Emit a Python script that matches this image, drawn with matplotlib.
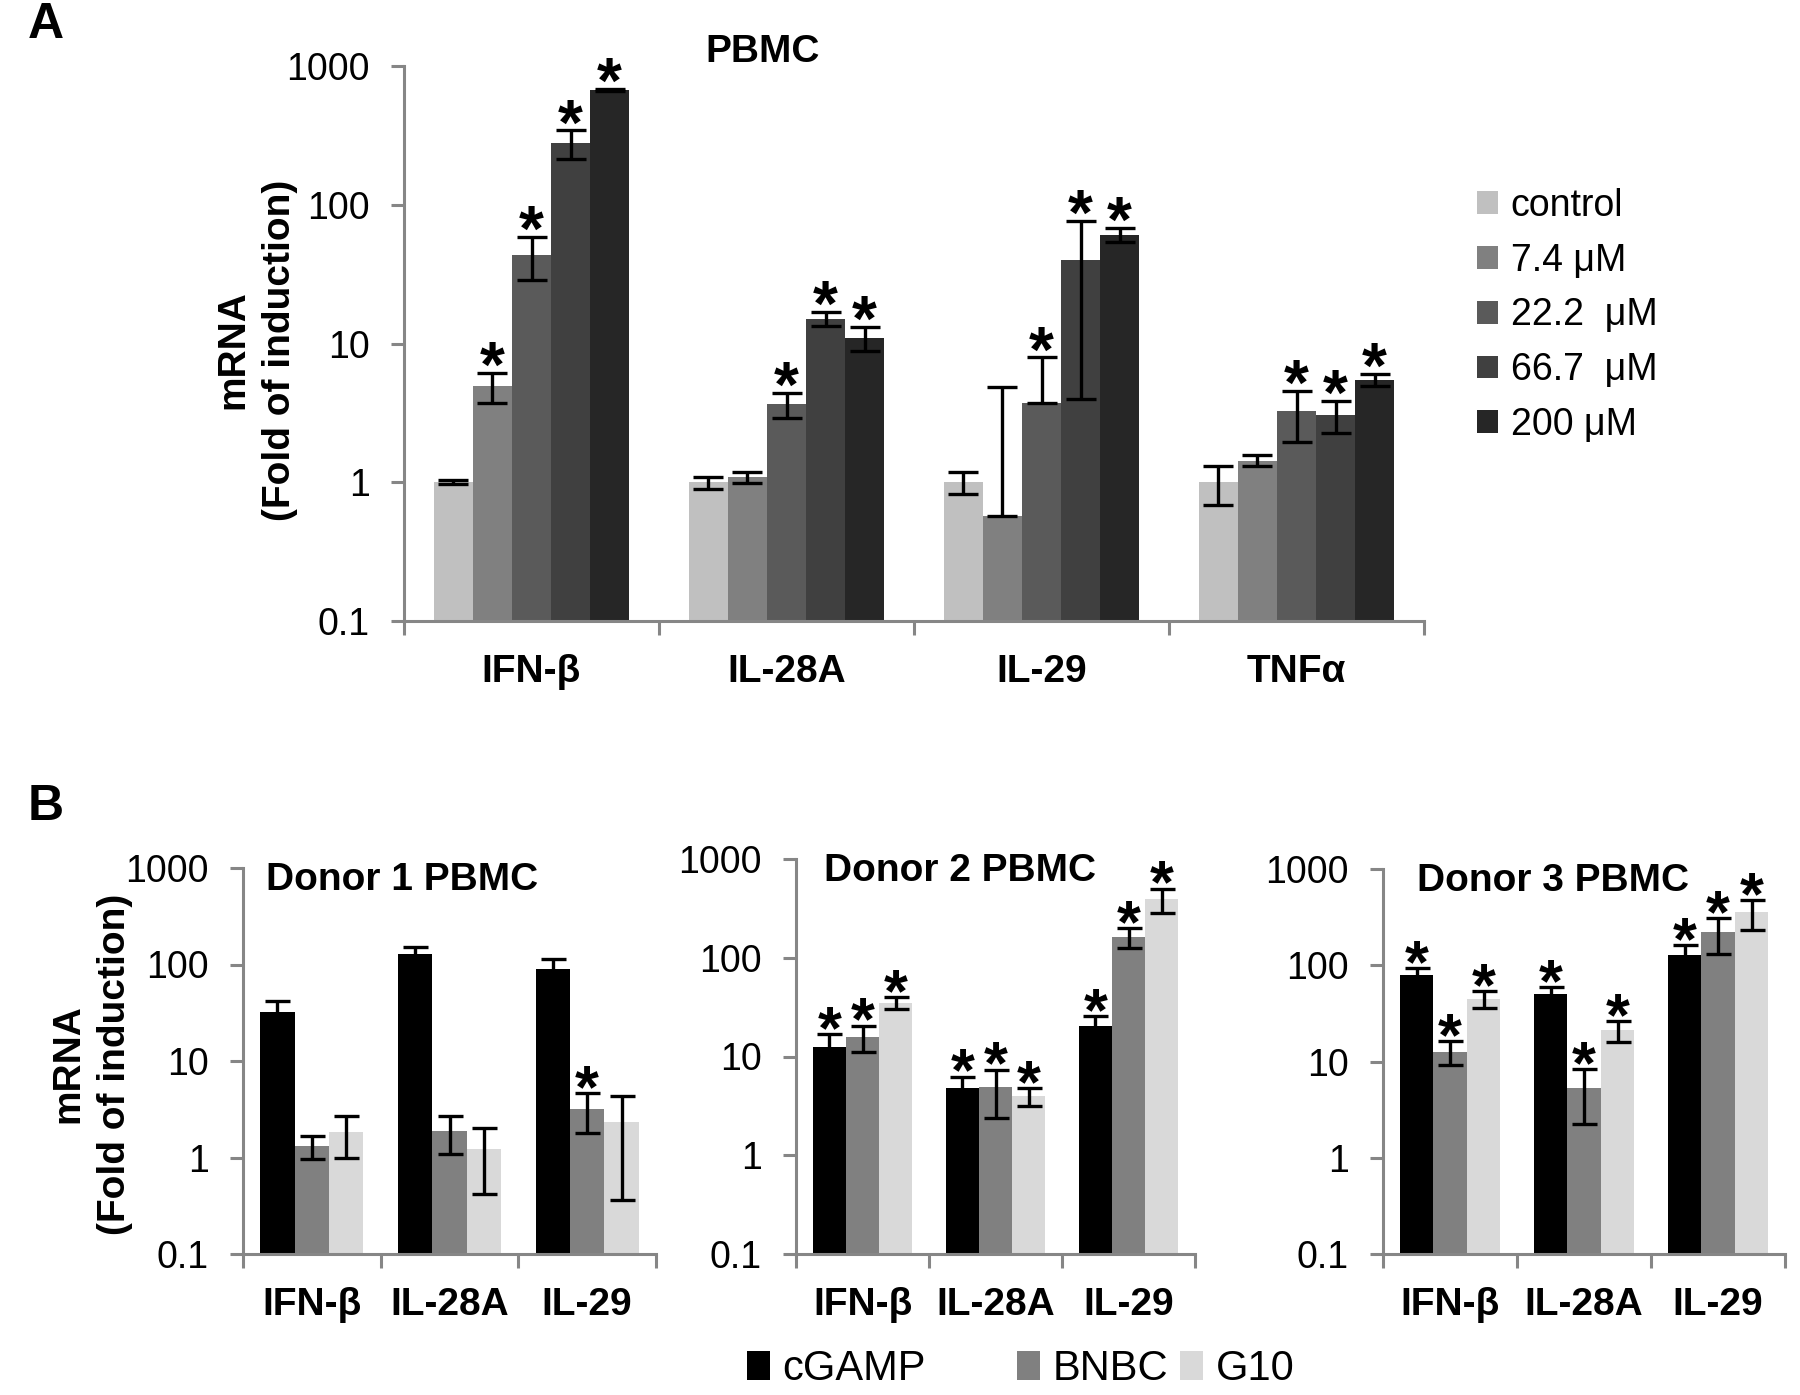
import matplotlib
matplotlib.use('Agg')
import matplotlib.pyplot as plt
import numpy as np
from matplotlib.patches import Patch
from matplotlib.ticker import FixedLocator, FixedFormatter, NullLocator

plt.rcParams['font.family'] = ['Liberation Sans', 'DejaVu Sans']

W, H = 1800, 1395

# ---------------- Panel A data ----------------
categories_A = ['IFN-β', 'IL-28A', 'IL-29', 'TNFα']
doses_A = ['control', '7.4 μM', '22.2  μM', '66.7  μM', '200 μM']
colors_A = ['#c0c0c0', '#808080', '#5a5a5a', '#404040', '#262626']

ctrl_A = [1.0, 1.0, 1.0, 1.0]
d74_A = [4.9, 1.09, 0.57, 1.43]
d222_A = [43.7, 3.64, 3.71, 3.24]
d667_A = [278, 15.1, 40, 3.07]
d200_A = [676, 11.0, 61, 5.49]

ctrl_A_err = [0.03, 0.1, 0.18, 0.31]
d74_A_err = [1.2, 0.1, 4.25, 0.13]
d222_A_err = [15, 0.75, 4.24, 1.3]
d667_A_err = [65, 1.7, 36, 0.8]
d200_A_err = [12, 2.2, 6.7, 0.55]

ctrl_A_sig = [0, 0, 0, 0]
d74_A_sig = [1, 0, 0, 0]
d222_A_sig = [1, 1, 1, 1]
d667_A_sig = [1, 1, 1, 1]
d200_A_sig = [1, 1, 1, 1]

# ---------------- Panel B data ----------------
genes_B = ['IFN-β', 'IL-28A', 'IL-29']
treatments_B = ['cGAMP', 'BNBC', 'G10']
colors_B = ['#000000', '#808080', '#d9d9d9']
titles_B = ['Donor 1 PBMC', 'Donor 2 PBMC', 'Donor 3 PBMC']

donor1_cGAMP = [32.4, 129, 90]
donor1_BNBC = [1.32, 1.89, 3.21]
donor1_G10 = [1.84, 1.22, 2.36]
donor1_cGAMP_err = [9.4, 23, 25]
donor1_BNBC_err = [0.35, 0.8, 1.4]
donor1_G10_err = [0.85, 0.8, 2.0]
donor1_cGAMP_sig = [0, 0, 0]
donor1_BNBC_sig = [0, 0, 1]
donor1_G10_sig = [0, 0, 0]

donor2_cGAMP = [12.6, 4.77, 20.5]
donor2_BNBC = [15.8, 4.88, 163]
donor2_G10 = [35, 3.97, 391]
donor2_cGAMP_err = [4.2, 1.5, 5]
donor2_BNBC_err = [4.8, 2.5, 37]
donor2_G10_err = [5, 0.85, 110]
donor2_cGAMP_sig = [1, 1, 1]
donor2_BNBC_sig = [1, 1, 1]
donor2_G10_sig = [1, 1, 1]

donor3_cGAMP = [79, 49.8, 128]
donor3_BNBC = [12.7, 5.26, 221]
donor3_G10 = [45, 21.1, 355]
donor3_cGAMP_err = [14, 9, 35]
donor3_BNBC_err = [3.5, 3, 90]
donor3_G10_err = [9, 5, 120]
donor3_cGAMP_sig = [1, 1, 1]
donor3_BNBC_sig = [1, 1, 1]
donor3_G10_sig = [1, 1, 1]

yticks = [0.1, 1, 10, 100, 1000]
ytick_labels = ['0.1', '1', '10', '100', '1000']

AXIS_GRAY = '#868686'


def px_axes(fig, l, t, r, b):
    return fig.add_axes([l / W, 1 - b / H, (r - l) / W, (b - t) / H])


def style_axes(ax, ncat, tick_fs, lab_fs, labels, xpad):
    ax.set_yscale('log')
    ax.set_ylim(0.1, 1000)
    ax.set_xlim(-0.5, ncat - 0.5)
    for s in ['top', 'right']:
        ax.spines[s].set_visible(False)
    for s in ['left', 'bottom']:
        ax.spines[s].set_color(AXIS_GRAY)
        ax.spines[s].set_linewidth(2.2)
    ax.yaxis.set_major_locator(FixedLocator(yticks))
    ax.yaxis.set_major_formatter(FixedFormatter(ytick_labels))
    ax.yaxis.set_minor_locator(NullLocator())
    ax.tick_params(axis='y', which='major', direction='out', length=9.5, width=2.2,
                   color=AXIS_GRAY, labelsize=tick_fs, pad=15)
    ax.set_xticks(np.arange(ncat))
    ax.set_xticklabels(labels, fontsize=lab_fs, fontweight='bold')
    ax.set_xticks(np.arange(ncat + 1) - 0.5, minor=True)
    ax.tick_params(axis='x', which='major', length=0, pad=xpad)
    ax.tick_params(axis='x', which='minor', direction='out', length=10, width=2.2,
                   color=AXIS_GRAY)
    ax.patch.set_alpha(0)


def draw_group(ax, series, errs, sigs, colors, width, capsize, star_fs):
    n = len(series)
    x = np.arange(len(series[0]))
    for i, (vals, err, sig, c) in enumerate(zip(series, errs, sigs, colors)):
        xs = x + (i - (n - 1) / 2) * width
        vals = np.array(vals, dtype=float)
        err = np.array(err, dtype=float)
        lower = np.where(err < vals, err, 0.0)
        ax.bar(xs, vals, width=width, color=c, edgecolor='none', zorder=2)
        ax.errorbar(xs, vals, yerr=[lower, err], fmt='none', ecolor='black',
                    elinewidth=2.4, capsize=capsize, capthick=2.4, zorder=3)
        for xi, v, e, s in zip(xs, vals, err, sig):
            if s:
                ax.annotate('*', xy=(xi, v + e), xytext=(0, -14),
                            textcoords='offset pixels', ha='center',
                            va='baseline', fontsize=star_fs, fontweight='bold',
                            zorder=4, annotation_clip=False)


fig = plt.figure(figsize=(W / 100, H / 100), dpi=100)

# ---------------- Panel A ----------------
axA = px_axes(fig, 404, 66, 1424, 621)
style_axes(axA, 4, 27, 28, categories_A, 24)
draw_group(axA, [ctrl_A, d74_A, d222_A, d667_A, d200_A],
           [ctrl_A_err, d74_A_err, d222_A_err, d667_A_err, d200_A_err],
           [ctrl_A_sig, d74_A_sig, d222_A_sig, d667_A_sig, d200_A_sig],
           colors_A, 0.153, 11, 46)
fig.text(257 / W, 1 - 350 / H, 'mRNA\n(Fold of induction)', fontsize=28,
         fontweight='bold', rotation=90, ha='center', va='center',
         multialignment='center', linespacing=1.38)
fig.text(763 / W, 1 - 52 / H, 'PBMC', fontsize=28, fontweight='bold',
         ha='center', va='center')
fig.text(46 / W, 1 - 25 / H, 'A', fontsize=36, fontweight='bold',
         ha='center', va='center')

handles_A = [Patch(facecolor=c, edgecolor='none') for c in colors_A]
fig.legend(handles_A, doses_A, loc='upper left',
           bbox_to_anchor=(1462 / W, 1 - 173 / H), frameon=False, fontsize=27,
           handlelength=0.55, handleheight=0.55, handletextpad=0.35,
           labelspacing=0.5, borderaxespad=0)

# ---------------- Panel B ----------------
boxes_B = [(243, 868, 656, 1254), (796, 859, 1195, 1254), (1383, 869, 1785, 1254)]
title_x_B = [0.055, 0.07, 0.085]
data_B = [
    ([donor1_cGAMP, donor1_BNBC, donor1_G10],
     [donor1_cGAMP_err, donor1_BNBC_err, donor1_G10_err],
     [donor1_cGAMP_sig, donor1_BNBC_sig, donor1_G10_sig]),
    ([donor2_cGAMP, donor2_BNBC, donor2_G10],
     [donor2_cGAMP_err, donor2_BNBC_err, donor2_G10_err],
     [donor2_cGAMP_sig, donor2_BNBC_sig, donor2_G10_sig]),
    ([donor3_cGAMP, donor3_BNBC, donor3_G10],
     [donor3_cGAMP_err, donor3_BNBC_err, donor3_G10_err],
     [donor3_cGAMP_sig, donor3_BNBC_sig, donor3_G10_sig]),
]
for box, (ser, err, sig), title, tx in zip(boxes_B, data_B, titles_B, title_x_B):
    ax = px_axes(fig, *box)
    style_axes(ax, 3, 27, 28, genes_B, 24)
    draw_group(ax, ser, err, sig, colors_B, 0.25, 9, 44)
    ax.text(tx, 0.97, title, transform=ax.transAxes, fontsize=28,
            fontweight='bold', ha='left', va='center')

fig.text(92 / W, 1 - 1064 / H, 'mRNA\n(Fold of induction)', fontsize=28,
         fontweight='bold', rotation=90, ha='center', va='center',
         multialignment='center', linespacing=1.38)
fig.text(46 / W, 1 - 807 / H, 'B', fontsize=36, fontweight='bold',
         ha='center', va='center')

legend_pos_B = [747, 1017, 1180]
for name, c, xpos in zip(treatments_B, colors_B, legend_pos_B):
    fig.legend([Patch(facecolor=c, edgecolor='none')], [name], loc='center left',
               bbox_to_anchor=(xpos / W, 1 - 1369 / H), frameon=False,
               fontsize=30, handlelength=0.55, handleheight=0.7,
               handletextpad=0.3, borderaxespad=0, borderpad=0)

fig.savefig('out.png', dpi=100)
